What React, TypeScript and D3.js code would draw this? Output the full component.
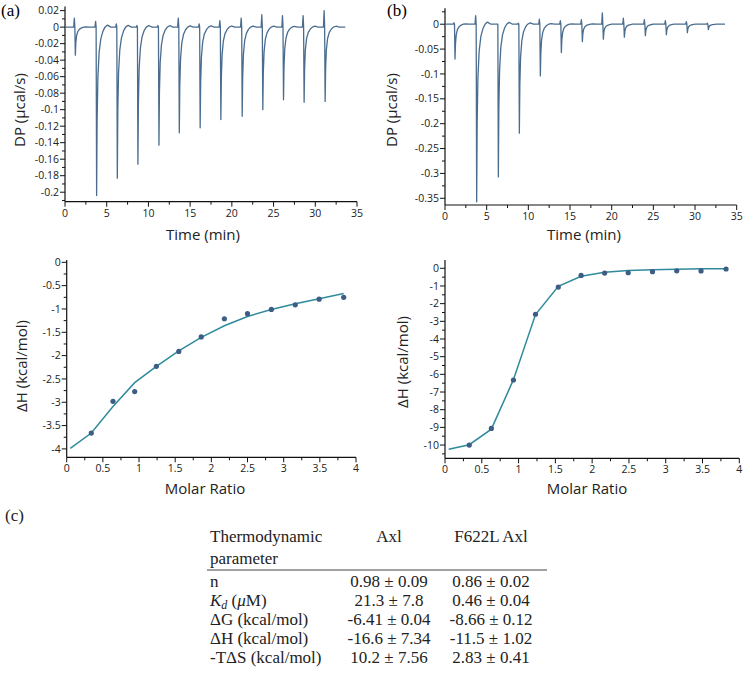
import React from "react";
import * as d3 from "d3";

// (a) Axl raw thermogram: injection time (min), peak minimum and injection spike (µcal/s)
const injTimeA = [1.24, 3.79, 6.27, 8.74, 11.26, 13.7, 16.2, 18.68, 21.24, 23.71, 26.19, 28.66, 31.18];
const peakA = [-0.034, -0.204, -0.183, -0.166, -0.143, -0.128, -0.122, -0.112, -0.108, -0.1, -0.088, -0.091, -0.09];
const spikeA = [0.011, 0.007, 0.004, 0.002, 0.002, 0.011, 0.004, 0.008, 0.011, 0.015, 0.014, 0.014, 0.02];

// (b) F622L Axl raw thermogram
const injTimeB = [1.2, 3.8, 6.4, 8.92, 11.44, 13.96, 16.48, 19.0, 21.52, 24.04, 26.56, 29.08, 31.6];
const peakB = [-0.07, -0.357, -0.307, -0.219, -0.104, -0.057, -0.035, -0.03, -0.026, -0.023, -0.021, -0.017, -0.011];
const spikeB = [0.003, 0.017, 0.0, 0.002, 0.01, 0.007, 0.009, 0.023, 0.012, 0.009, 0.007, 0.005, 0.002];

// peak profile: offset from the minimum (min) and share of the depth
const leadT = [-0.2, -0.12, -0.06];
const tailT = [0, 0.06, 0.15, 0.3, 0.5, 0.75, 1.0, 1.3, 1.7];
const tailF = [1, 0.55, 0.3, 0.15, 0.07, 0.025, 0, -0.012, 0];
const traceEnd = 33.6;

// (a) integrated heats + fit
const ratioC = [0.34, 0.64, 0.94, 1.24, 1.55, 1.86, 2.18, 2.5, 2.83, 3.16, 3.49, 3.83];
const heatC = [-3.66, -2.98, -2.77, -2.23, -1.91, -1.6, -1.21, -1.1, -1.01, -0.91, -0.79, -0.75];
const fitRatioC = [0.05, 0.34, 0.64, 0.94, 1.24, 1.55, 1.86, 2.18, 2.5, 2.83, 3.16, 3.49, 3.83];
const fitHeatC = [-3.99, -3.66, -3.09, -2.58, -2.23, -1.9, -1.61, -1.36, -1.16, -1.01, -0.89, -0.78, -0.67];

// (b) integrated heats + fit
const ratioD = [0.33, 0.63, 0.93, 1.23, 1.54, 1.85, 2.17, 2.49, 2.82, 3.15, 3.48, 3.82];
const heatD = [-10.0, -9.06, -6.32, -2.6, -1.06, -0.4, -0.27, -0.25, -0.19, -0.14, -0.15, -0.04];
const fitRatioD = [0.05, 0.33, 0.63, 0.93, 1.23, 1.54, 1.85, 2.17, 2.49, 2.82, 3.15, 3.48, 3.82];
const fitHeatD = [-10.24, -9.98, -9.1, -6.3, -2.62, -1.02, -0.45, -0.22, -0.13, -0.08, -0.05, -0.03, -0.02];

// (c) table
const colHeads = ["Axl", "F622L Axl"];
const paramNames = ["n", "Kd", "ΔG (kcal/mol)", "ΔH (kcal/mol)", "-TΔS (kcal/mol)"];
const axlVals = ["0.98 ± 0.09", "21.3 ± 7.8", "-6.41 ± 0.04", "-16.6 ± 7.34", "10.2 ± 7.56"];
const mutVals = ["0.86 ± 0.02", "0.46 ± 0.04", "-8.66 ± 0.12", "-11.5 ± 1.02", "2.83 ± 0.41"];

const SANS = "'Open Sans', 'Noto Sans', sans-serif";
const SERIF = "'Liberation Serif', 'DejaVu Serif', serif";
const TRACE = "#4a6d8f";
const FIT = "#2f8b9c";
const DOT = "#3d5e84";

const buildTrace = (times, peaks, spikes) => {
  const pts = [[0, 0]];
  times.forEach((t, i) => {
    leadT.forEach((dt, k) => pts.push([t + dt, k === 1 ? spikes[i] : 0]));
    tailT.forEach((dt, k) => pts.push([t + dt, peaks[i] * tailF[k]]));
  });
  pts.push([traceEnd, 0]);
  return pts;
};

const fmt = (v) => String(+v.toFixed(4));

const Axes = ({ x, y, xMajor, xMinor, yMajor, yMinor, xTitle, yTitle, xTitleAt, yTitleAt }) => {
  const [x0, x1] = x.range();
  const [y0, y1] = y.range();
  return (
    <g fontFamily={SANS} fill="#222">
      <line x1={x0} x2={x0} y1={y0} y2={y1} stroke="#111" strokeWidth={1.2} />
      <line x1={x0} x2={x1} y1={y0} y2={y0} stroke="#111" strokeWidth={1.2} />
      {yMinor.map((v) => (
        <line key={"ym" + v} x1={x0 - 3} x2={x0} y1={y(v)} y2={y(v)} stroke="#111" />
      ))}
      {yMajor.map((v) => (
        <g key={"y" + v}>
          <line x1={x0 - 5} x2={x0} y1={y(v)} y2={y(v)} stroke="#111" />
          <text x={x0 - 6} y={y(v)} dy="0.35em" textAnchor="end" fontSize={10.5}>
            {fmt(v)}
          </text>
        </g>
      ))}
      {xMinor.map((v) => (
        <line key={"xm" + v} x1={x(v)} x2={x(v)} y1={y0} y2={y0 + 3} stroke="#111" />
      ))}
      {xMajor.map((v) => (
        <g key={"x" + v}>
          <line x1={x(v)} x2={x(v)} y1={y0} y2={y0 + 5} stroke="#111" />
          <text x={x(v)} y={y0 + 15} textAnchor="middle" fontSize={10.5}>
            {fmt(v)}
          </text>
        </g>
      ))}
      <text x={xTitleAt[0]} y={xTitleAt[1]} dy="0.35em" textAnchor="middle" fontSize={15}>
        {xTitle}
      </text>
      <text
        transform={`translate(${yTitleAt[0]},${yTitleAt[1]}) rotate(-90)`}
        dy="0.35em"
        textAnchor="middle"
        fontSize={15}
      >
        {yTitle}
      </text>
    </g>
  );
};

const stepTicks = (lo, hi, step) => d3.range(Math.round(lo / step), Math.round(hi / step) + 1).map((k) => +(k * step).toFixed(4));

const App = () => {
  const line = d3.line().x((d) => d[0]).y((d) => d[1]);

  // panel a
  const xa = d3.scaleLinear().domain([0, 35]).range([65, 357]);
  const ya = d3.scaleLinear().domain([-0.2115, 0.025]).range([201.7, 6.5]);
  const traceA = buildTrace(injTimeA, peakA, spikeA).map(([t, v]) => [xa(t), ya(v)]);

  // panel b
  const xb = d3.scaleLinear().domain([0, 35]).range([445, 736.7]);
  const yb = d3.scaleLinear().domain([-0.3635, 0.032]).range([205, 8.3]);
  const traceB = buildTrace(injTimeB, peakB, spikeB).map(([t, v]) => [xb(t), yb(v)]);

  // panel c
  const xc = d3.scaleLinear().domain([0, 4]).range([66.7, 356]);
  const yc = d3.scaleLinear().domain([-4.18, 0.05]).range([457.3, 260]);
  const fitC = fitRatioC.map((r, i) => [xc(r), yc(fitHeatC[i])]);

  // panel d
  const xd = d3.scaleLinear().domain([0, 4]).range([445, 739.3]);
  const yd = d3.scaleLinear().domain([-10.75, 0.47]).range([458.3, 260]);
  const fitD = fitRatioD.map((r, i) => [xd(r), yd(fitHeatD[i])]);

  const timeMajor = stepTicks(0, 35, 5);
  const timeMinor = stepTicks(0, 35, 2.5).filter((v) => !timeMajor.includes(v));
  const ratioMajor = stepTicks(0, 4, 0.5);
  const ratioMinor = stepTicks(0, 4, 0.25).filter((v) => !ratioMajor.includes(v));

  const rowY = (i) => 587 + i * 18.9;
  const colX = [389, 491];

  return (
    <div style={{ position: "absolute", left: 0, top: 0 }}>
      <svg width={745} height={675} style={{ display: "block", background: "#fff" }}>
        {/* (a) */}
        <text x={1} y={16} fontFamily={SERIF} fontSize={17}>(a)</text>
        <Axes
          x={xa}
          y={ya}
          xMajor={timeMajor}
          xMinor={timeMinor}
          yMajor={stepTicks(-0.2, 0.02, 0.02)}
          yMinor={stepTicks(-0.21, 0.02, 0.01).filter((v) => Math.round(v * 100) % 2 !== 0)}
          xTitle="Time (min)"
          yTitle="DP (µcal/s)"
          xTitleAt={[203, 235]}
          yTitleAt={[20, 110]}
        />
        <path d={line(traceA)} fill="none" stroke={TRACE} strokeWidth={1.3} strokeLinejoin="round" />

        {/* (b) */}
        <text x={387} y={16} fontFamily={SERIF} fontSize={17}>(b)</text>
        <Axes
          x={xb}
          y={yb}
          xMajor={timeMajor}
          xMinor={timeMinor}
          yMajor={stepTicks(-0.35, 0, 0.05)}
          yMinor={stepTicks(-0.35, 0.025, 0.025).filter((v) => Math.round(v * 1000) % 50 !== 0)}
          xTitle="Time (min)"
          yTitle="DP (µcal/s)"
          xTitleAt={[584, 235]}
          yTitleAt={[392, 110]}
        />
        <path d={line(traceB)} fill="none" stroke={TRACE} strokeWidth={1.3} strokeLinejoin="round" />

        {/* (c) */}
        <Axes
          x={xc}
          y={yc}
          xMajor={ratioMajor}
          xMinor={ratioMinor}
          yMajor={stepTicks(-4, 0, 0.5)}
          yMinor={stepTicks(-4, 0, 0.25).filter((v) => Math.round(v * 100) % 50 !== 0)}
          xTitle="Molar Ratio"
          yTitle="ΔH (kcal/mol)"
          xTitleAt={[205, 489]}
          yTitleAt={[22, 366]}
        />
        <path d={line(fitC)} fill="none" stroke={FIT} strokeWidth={1.5} />
        {ratioC.map((r, i) => (
          <circle key={"c" + i} cx={xc(r)} cy={yc(heatC[i])} r={2.6} fill={DOT} />
        ))}

        {/* (d) */}
        <Axes
          x={xd}
          y={yd}
          xMajor={ratioMajor}
          xMinor={ratioMinor}
          yMajor={stepTicks(-10, 0, 1)}
          yMinor={stepTicks(-10.5, 0, 0.5).filter((v) => Math.round(v * 10) % 10 !== 0)}
          xTitle="Molar Ratio"
          yTitle="ΔH (kcal/mol)"
          xTitleAt={[587, 489]}
          yTitleAt={[403, 362]}
        />
        <path d={line(fitD)} fill="none" stroke={FIT} strokeWidth={1.5} />
        {ratioD.map((r, i) => (
          <circle key={"d" + i} cx={xd(r)} cy={yd(heatD[i])} r={2.6} fill={DOT} />
        ))}

        {/* (c) table */}
        <g fontFamily={SERIF} fontSize={17} fill="#222">
          <text x={5} y={521}>(c)</text>
          <text x={210} y={542}>Thermodynamic</text>
          <text x={210} y={564}>parameter</text>
          {colHeads.map((h, j) => (
            <text key={h} x={colX[j]} y={542} textAnchor="middle">{h}</text>
          ))}
          <line x1={207} x2={547} y1={570} y2={570} stroke="#444" strokeWidth={1} />
          {paramNames.map((p, i) =>
            p === "Kd" ? (
              <text key={p} x={210} y={rowY(i)}>
                <tspan fontStyle="italic">K</tspan>
                <tspan fontStyle="italic" fontSize={12} dy={3}>d</tspan>
                <tspan dy={-3}> (</tspan>
                <tspan fontStyle="italic">μ</tspan>
                <tspan>M)</tspan>
              </text>
            ) : (
              <text key={p} x={210} y={rowY(i)}>{p}</text>
            )
          )}
          {axlVals.map((v, i) => (
            <text key={"a" + i} x={colX[0]} y={rowY(i)} textAnchor="middle">{v}</text>
          ))}
          {mutVals.map((v, i) => (
            <text key={"m" + i} x={colX[1]} y={rowY(i)} textAnchor="middle">{v}</text>
          ))}
        </g>
      </svg>
    </div>
  );
};

export default App;
